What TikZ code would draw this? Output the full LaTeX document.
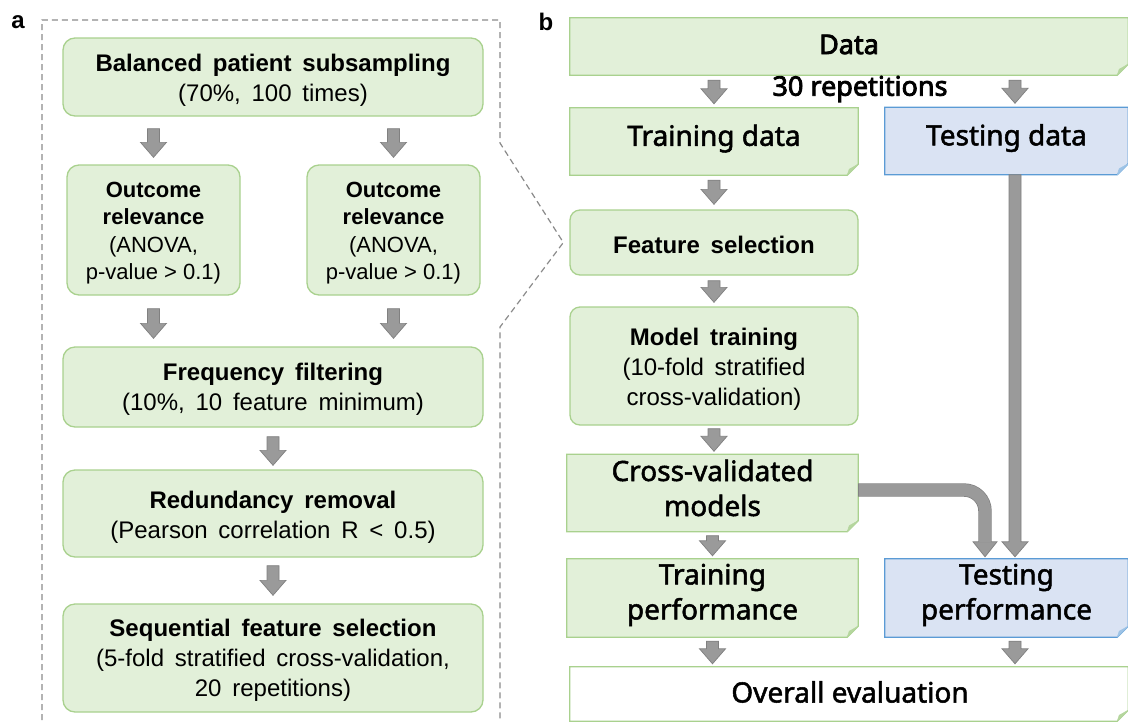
\documentclass[tikz,border=0pt]{standalone}
\usepackage{fontspec}
\setmainfont{Liberation Sans}
\newfontfamily\rfont[AutoFakeBold=3]{Noto Sans}
\newfontfamily\rfontm[FakeBold=1.8]{Noto Sans}
\usetikzlibrary{calc,backgrounds}
\definecolor{gfill}{HTML}{E2F0D9}
\definecolor{gline}{HTML}{A9D18E}
\definecolor{gflap}{HTML}{B5D69E}
\definecolor{bfill}{HTML}{DAE3F3}
\definecolor{bline}{HTML}{5B9BD5}
\definecolor{bflap}{HTML}{9DC3E6}
\definecolor{agray}{HTML}{9A9A9A}
\definecolor{adark}{HTML}{808080}
\definecolor{dashgray}{HTML}{8A8A8A}
\newcommand\widesp{\spaceskip 0.45em plus 0.1em\relax}
\tikzset{
  lbox/.style={rectangle, rounded corners=12pt, fill=gfill, draw=gline, line width=1.3pt, inner sep=0pt},
  ltext/.style={align=center, inner sep=0pt, font=\fontsize{24}{30}\selectfont\widesp},
  otext/.style={ltext, font=\fontsize{22}{27.5}\selectfont},
  rbox/.style={lbox, rounded corners=10pt},
  fbox/.style={rectangle, inner sep=0pt},
  ftext/.style={align=center, inner sep=0pt, font=\rfontm\fontsize{28}{35}\selectfont},
  arrowshape/.style={fill=agray, draw=adark, line width=0.7pt},
  panellabel/.style={font=\bfseries\fontsize{24}{24}\selectfont, inner sep=0pt},
  paneldash/.style={draw=dashgray, line width=1.2pt, dash pattern=on 6pt off 4pt}
}
% vertical block arrow: [xshift]{from}{to}{top gap}{bottom gap}
\newcommand\varr[5][0pt]{%
  \path[arrowshape] let \p1=(#2), \p2=(#3) in
   (\x2+#1-6pt,\y1-#4) -- (\x2+#1+6pt,\y1-#4) -- (\x2+#1+6pt,\y2+#5+15pt)
   -- (\x2+#1+13pt,\y2+#5+15pt) -- (\x2+#1,\y2+#5) -- (\x2+#1-13pt,\y2+#5+15pt)
   -- (\x2+#1-6pt,\y2+#5+15pt) -- cycle;}
% folded-corner box behind a node: {name}{fill}{line}{flap}
\newcommand\foldshape[4]{%
  \filldraw[fill=#2, draw=#3, line width=1.3pt] (#1.north west) -- (#1.north east)
    -- ([yshift=11pt]#1.south east) -- ([xshift=-11pt]#1.south east) -- (#1.south west) -- cycle;
  \filldraw[fill=#4, draw=#4, line width=0.5pt, line join=round] ([yshift=11pt]#1.south east)
    -- ([xshift=-11pt]#1.south east) -- ([xshift=-9pt,yshift=6pt]#1.south east) -- cycle;}
\begin{document}
\begin{tikzpicture}[x=1pt,y=-1pt]
\useasboundingbox (0,0) rectangle (1128,721);

% ---------- panel a ----------
\node[panellabel] (la) at (18,22) {a};
\node[panellabel] (lb) at (546,22) {b};

\node[lbox, minimum width=420pt, minimum height=78pt] (bal) at (273,77) {};
\node[ltext] (balT) at ([yshift=-3pt]bal) {\textbf{Balanced patient subsampling}\\(70\%, 100 times)};
\node[lbox, minimum width=173pt, minimum height=130pt] (out1) at (153.5,230) {};
\node[otext] (out1T) at ([yshift=-3pt]out1) {\textbf{Outcome}\\\textbf{relevance}\\(ANOVA,\\p-value > 0.1)};
\node[lbox, minimum width=173pt, minimum height=130pt] (out2) at (393.5,230) {};
\node[otext] (out2T) at ([yshift=-3pt]out2) {\textbf{Outcome}\\\textbf{relevance}\\(ANOVA,\\p-value > 0.1)};
\node[lbox, minimum width=420pt, minimum height=80pt] (freq) at (273,387) {};
\node[ltext] (freqT) at ([yshift=-2pt]freq) {\textbf{Frequency filtering}\\(10\%, 10 feature minimum)};
\node[lbox, minimum width=420pt, minimum height=87pt] (red) at (273,513.5) {};
\node[ltext] (redT) at ([yshift=-4pt]red) {\textbf{Redundancy removal}\\(Pearson correlation R < 0.5)};
\node[lbox, minimum width=420pt, minimum height=108pt] (seq) at (273,658) {};
\node[ltext] (seqT) at ([yshift=-2pt]seq) {\textbf{Sequential feature selection}\\(5-fold stratified cross-validation,\\20 repetitions)};

\varr{bal.south}{out1.north}{12pt}{7pt}
\varr{bal.south}{out2.north}{12pt}{7pt}
\varr{out1.south}{out1.south |- freq.north}{13pt}{8pt}
\varr{out2.south}{out2.south |- freq.north}{13pt}{8pt}
\varr{freq.south}{red.north}{9pt}{4pt}
\varr{red.south}{seq.north}{8pt}{8pt}

% ---------- panel b ----------
\node[fbox, minimum width=558pt, minimum height=57pt] (data) at (849,46.5) {};
\node[font=\rfont\bfseries\fontsize{27}{30}\selectfont, inner sep=0pt] (dataT) at ([yshift=2pt]data) {Data};
\node[font=\rfont\bfseries\fontsize{27}{30}\selectfont, inner sep=0pt] (rep) at (860,89) {30 repetitions};
\node[fbox, minimum width=288pt, minimum height=67pt] (trd) at (714,141.5) {};
\node[ftext] (trdT) at ([yshift=3pt]trd) {Training data};
\node[fbox, minimum width=243pt, minimum height=67pt] (ted) at (1006.5,141) {};
\node[ftext] (tedT) at ([yshift=3pt]ted) {Testing data};
\node[rbox, minimum width=288pt, minimum height=65pt] (fs) at (714,242.5) {};
\node[ltext] (fsT) at ([yshift=-2pt]fs) {\textbf{Feature selection}};
\node[rbox, minimum width=288pt, minimum height=118pt] (mt) at (714,366) {};
\node[ltext] (mtT) at ([yshift=-3pt]mt) {\textbf{Model training}\\(10-fold stratified\\cross-validation)};
\node[fbox, minimum width=291pt, minimum height=77pt] (cv) at (712.5,493) {};
\node[ftext] (cvT) at ([yshift=5pt]cv) {Cross-validated\\models};
\node[fbox, minimum width=291pt, minimum height=78pt] (tp) at (712.5,598) {};
\node[ftext] (tpT) at ([yshift=3pt]tp) {Training\\performance};
\node[fbox, minimum width=243pt, minimum height=78pt] (tsp) at (1006.5,598) {};
\node[ftext] (tspT) at ([yshift=3pt]tsp) {Testing\\performance};
\node[fbox, minimum width=558pt, minimum height=54pt] (ov) at (849,694) {};
\node[ftext] (ovT) at (850,692) {Overall evaluation};

\begin{pgfonlayer}{background}
  \foldshape{data}{gfill}{gline}{gflap}
  \foldshape{trd}{gfill}{gline}{gflap}
  \foldshape{ted}{bfill}{bline}{bflap}
  \foldshape{cv}{gfill}{gline}{gflap}
  \foldshape{tp}{gfill}{gline}{gflap}
  \foldshape{tsp}{bfill}{bline}{bflap}
  \foldshape{ov}{white}{gline}{gflap}
\end{pgfonlayer}

% dashed outline of panel a, pointing to feature selection
\coordinate (apex) at ([xshift=-6pt]fs.west);
\draw[paneldash] (42,740) -- (42,20) -- (500,20) -- (500,143) -- (apex) -- (500,327) -- (500,740);

\varr{data.south}{trd.north}{5pt}{4pt}
\varr[8.5pt]{data.south}{ted.north}{5pt}{4pt}
\varr{trd.south}{fs.north}{5pt}{5pt}
\varr{fs.south}{mt.north}{5pt}{4pt}
\varr{mt.south}{mt.south |- cv.north}{3pt}{3pt}
\varr{cv.south}{tp.north}{4pt}{3pt}
\varr{tp.south}{tp.south |- ov.north}{4pt}{3pt}
\varr[8.5pt]{tsp.south}{tsp.south |- ov.north}{4pt}{3pt}
\varr[8.5pt]{ted.south}{tsp.north}{0pt}{2pt}

% bent arrow from cross-validated models to testing performance
\coordinate (bt) at ([xshift=-21.5pt,yshift=2pt]tsp.north);
\coordinate (bb) at ([yshift=15pt]bt);
\coordinate (bs) at ([yshift=3pt]cv.east);
\draw[line width=13.4pt, adark, rounded corners=21pt] (bs) -| ([yshift=-1pt]bb);
\filldraw[fill=agray, draw=adark, line width=0.7pt] ([xshift=-12pt]bb) -- (bt) -- ([xshift=12pt]bb) -- cycle;
\draw[line width=12pt, agray, rounded corners=21pt] ([xshift=0.7pt]bs) -| ([yshift=-0.6pt]bb);
\end{tikzpicture}
\end{document}
